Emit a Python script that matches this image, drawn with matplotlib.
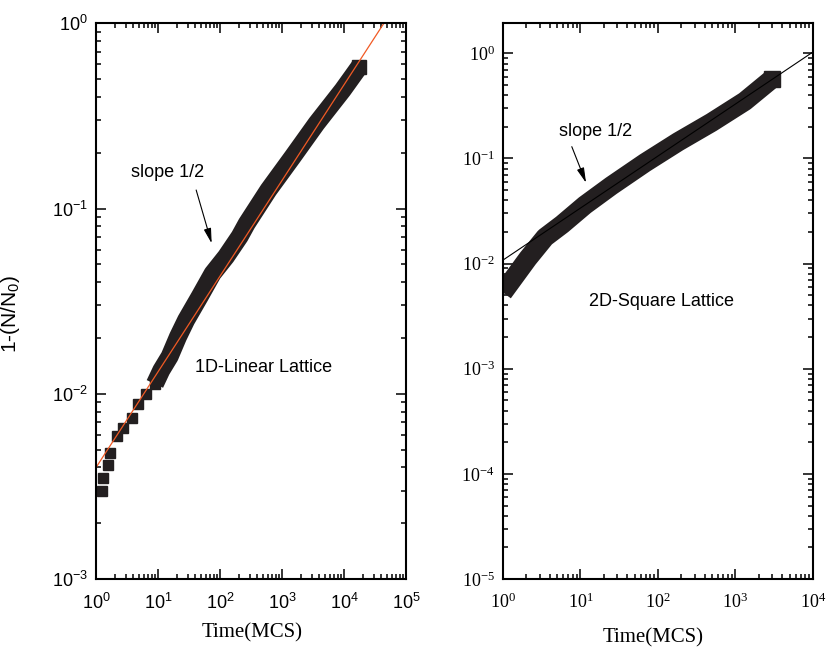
import math
import matplotlib
matplotlib.use('Agg')
import matplotlib.pyplot as plt
from matplotlib.ticker import LogLocator, NullFormatter

plt.rcParams['font.family'] = ['Liberation Sans', 'DejaVu Sans']
plt.rcParams['mathtext.fontset'] = 'custom'
plt.rcParams['mathtext.rm'] = 'Liberation Serif'
plt.rcParams['mathtext.sf'] = 'Liberation Sans'

# 1D linear lattice
t_1d = [1.23, 1.28, 1.58, 1.68, 2.15, 2.75, 3.75, 4.8, 6.5, 8.9, 11.3, 15.4,
        21, 28.4, 46.8, 76, 125, 207, 270, 605, 1480, 3600, 9500, 17700]
y_1d = [0.0030, 0.0035, 0.0041, 0.0048, 0.0059, 0.0065, 0.0074, 0.0088,
        0.0100, 0.0113, 0.0134, 0.0159, 0.0203, 0.0250, 0.0334, 0.0446,
        0.055, 0.0706, 0.083, 0.126, 0.19, 0.288, 0.436, 0.583]
fit_1d_t = [1, 5e4]
fit_1d_y = [0.0040, 1.07]

# 2D square lattice
t_2d = [1.0, 2.1, 3.5, 5.8, 11.4, 25, 68, 182, 490, 1320, 2950]
y_2d = [0.0053, 0.0112, 0.0178, 0.0236, 0.036, 0.055, 0.091, 0.144, 0.22,
        0.35, 0.57]
fit_2d_t = [1, 1e4]
fit_2d_y = [0.0108, 1.03]

xticks_1d = [1, 10, 100, 1e3, 1e4, 1e5]
yticks_1d = [1e-3, 1e-2, 1e-1, 1]
xticks_2d = [1, 10, 100, 1e3, 1e4]
yticks_2d = [1e-5, 1e-4, 1e-3, 1e-2, 1e-1, 1]

black = '#231f20'
red = '#f15a24'

fig = plt.figure(figsize=(8.3, 6.51), dpi=100)
ax1 = fig.add_axes([0.1157, 0.1106, 0.3735, 0.8536])
ax2 = fig.add_axes([0.6060, 0.1106, 0.3735, 0.8536])


def style(ax, xt, yt, fmt, size, xpad, ypad):
    ax.set_xscale('log')
    ax.set_yscale('log')
    ax.set_xticks(xt)
    ax.set_xticklabels([fmt % round(math.log10(v)) for v in xt])
    ax.set_yticks(yt)
    ax.set_yticklabels([fmt % round(math.log10(v)) for v in yt])
    for a in (ax.xaxis, ax.yaxis):
        a.set_minor_locator(LogLocator(base=10, subs=range(2, 10), numticks=20))
        a.set_minor_formatter(NullFormatter())
    ax.tick_params(which='both', direction='in', top=True, right=True,
                   width=1.1, color='black')
    ax.tick_params(which='major', length=7, labelsize=size)
    ax.tick_params(which='minor', length=3.8)
    ax.tick_params(axis='x', which='major', pad=xpad)
    ax.tick_params(axis='y', which='major', pad=ypad)
    for s in ax.spines.values():
        s.set_linewidth(1.5)


arrow = dict(arrowstyle='-|>,head_length=0.9,head_width=0.22',
             color='black', lw=0.8, shrinkA=0, shrinkB=0)

# left panel
ax1.plot(t_1d[:11], y_1d[:11], 's', color=black, ms=6.5, mec=black)
ax1.plot(t_1d[9:], y_1d[9:], '-', color=black, lw=13,
         solid_capstyle='butt', solid_joinstyle='round')
ax1.plot(t_1d[-1:], y_1d[-1:], 's', color=black, ms=10, mec=black)
ax1.plot(fit_1d_t, fit_1d_y, '-', color=red, lw=0.9)
ax1.set_xlim(1, 1e5)
ax1.set_ylim(1e-3, 1)
style(ax1, xticks_1d, yticks_1d, r'$\mathsf{10^{%d}}$', 13, 10, 6)
ax1.set_xlabel('Time(MCS)', fontfamily='Liberation Serif', fontsize=15)
ax1.xaxis.set_label_coords(0.502, -0.079)
ax1.set_ylabel(r'1-(N/N$_\mathsf{0}$)', fontsize=15)
ax1.yaxis.set_label_coords(-0.24, 0.477)
ax1.text(0.539, 0.381, '1D-Linear Lattice', transform=ax1.transAxes,
         fontsize=13, ha='center', va='center')
ax1.text(0.232, 0.732, 'slope 1/2', transform=ax1.transAxes,
         fontsize=13, ha='center', va='center')
ax1.annotate('', xy=(0.373, 0.604), xytext=(0.323, 0.700),
             xycoords='axes fraction', textcoords='axes fraction',
             arrowprops=arrow)

# right panel
ax2.plot(t_2d, y_2d, '-', color=black, lw=14,
         solid_capstyle='butt', solid_joinstyle='round')
ax2.plot(t_2d[-1:], y_2d[-1:], 's', color=black, ms=11, mec=black)
ax2.plot(fit_2d_t, fit_2d_y, '-', color='black', lw=0.8)
ax2.set_xlim(1, 1e4)
ax2.set_ylim(1e-5, 1.93)
style(ax2, xticks_2d, yticks_2d, r'$\mathrm{10^{%d}}$', 13, 10, 6)
ax2.set_xlabel('Time(MCS)', fontfamily='Liberation Serif', fontsize=15)
ax2.xaxis.set_label_coords(0.484, -0.088)
ax2.text(0.511, 0.499, '2D-Square Lattice', transform=ax2.transAxes,
         fontsize=13, ha='center', va='center')
ax2.text(0.298, 0.805, 'slope 1/2', transform=ax2.transAxes,
         fontsize=13, ha='center', va='center')
ax2.annotate('', xy=(0.268, 0.713), xytext=(0.222, 0.778),
             xycoords='axes fraction', textcoords='axes fraction',
             arrowprops=arrow)

fig.savefig('out.png', dpi=100)
